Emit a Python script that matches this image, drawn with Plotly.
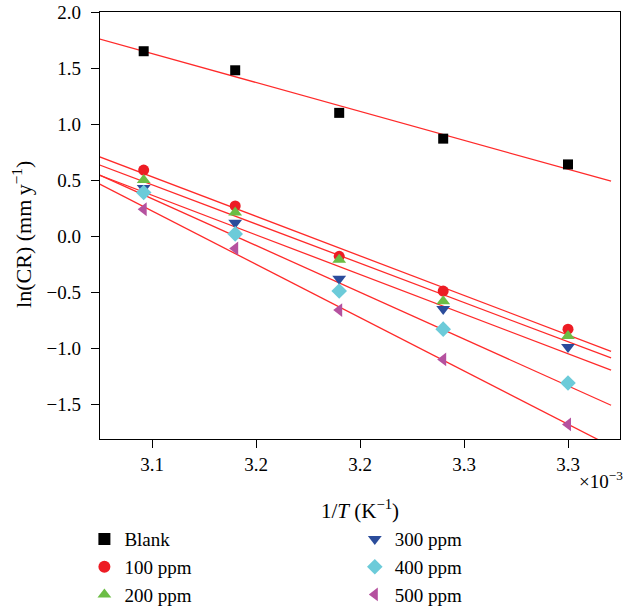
import numpy as np
import plotly.graph_objects as go

# 1/T in units of 1e-3 K^-1
inv_T = [3.096, 3.140, 3.190, 3.240, 3.300]

series_names = ["Blank", "100 ppm", "200 ppm", "300 ppm", "400 ppm", "500 ppm"]
blank = [1.65, 1.48, 1.10, 0.87, 0.64]
ppm100 = [0.59, 0.27, -0.18, -0.49, -0.83]
ppm200 = [0.50, 0.21, -0.21, -0.58, -0.89]
ppm300 = [0.43, 0.12, -0.38, -0.65, -0.99]
ppm400 = [0.39, 0.02, -0.49, -0.83, -1.31]
ppm500 = [0.24, -0.11, -0.66, -1.10, -1.68]
series_values = [blank, ppm100, ppm200, ppm300, ppm400, ppm500]

x_tickvals = [3.10, 3.15, 3.20, 3.25, 3.30]
x_ticktext = ["3.1", "3.2", "3.2", "3.3", "3.3"]
y_tickvals = [-1.5, -1.0, -0.5, 0.0, 0.5, 1.0, 1.5, 2.0]
y_ticktext = ["\u22121.5", "\u22121.0", "\u22120.5", "0.0", "0.5", "1.0", "1.5", "2.0"]

colors = ["#000000", "#ed1c24", "#6cbd45", "#2b4c9b", "#6ccbd9", "#b5519f"]
symbols = ["square", "circle", "triangle-up", "triangle-down", "diamond", "triangle-left"]
sizes = [10, 11, 12, 12, 12, 12]
legends = ["legend", "legend", "legend", "legend2", "legend2", "legend2"]

FONT = "Liberation Serif"
fig = go.Figure()

# linear Arrhenius fits for each series
fit_x = np.array([3.06, 3.3207])
for vals in series_values:
    slope, intercept = np.polyfit(inv_T, vals, 1)
    fig.add_trace(go.Scatter(
        x=fit_x, y=slope * fit_x + intercept, mode="lines",
        line=dict(color="#ff2a2a", width=1.3), showlegend=False, hoverinfo="skip",
    ))

for name, vals, c, s, sz, lg in zip(series_names, series_values, colors, symbols, sizes, legends):
    fig.add_trace(go.Scatter(
        x=inv_T, y=vals, mode="markers", name=name, legend=lg,
        marker=dict(color=c, symbol=s, size=sz, line=dict(width=0)),
    ))

axis_common = dict(
    showline=True, linecolor="black", linewidth=1.3, mirror=True,
    ticks="outside", ticklen=8, tickwidth=1.3, tickcolor="black",
    showgrid=False, zeroline=False,
    tickfont=dict(family=FONT, size=19, color="black"),
)

legend_common = dict(
    yanchor="top", xanchor="left",
    font=dict(family=FONT, size=19), tracegroupgap=0,
    itemsizing="constant", bgcolor="rgba(0,0,0,0)",
)

fig.update_layout(
    width=631, height=610,
    margin=dict(l=100, r=11, t=12, b=171, autoexpand=False),
    plot_bgcolor="white", paper_bgcolor="white",
    font=dict(family=FONT, size=19, color="black"),
    xaxis=dict(
        range=[3.075, 3.325], tickvals=x_tickvals, ticktext=x_ticktext,
        title=dict(text="1/<i>T</i> (K<sup>\u22121</sup>)", font=dict(family=FONT, size=21), standoff=29),
        **axis_common,
    ),
    yaxis=dict(
        range=[-1.81, 2.0], tickvals=y_tickvals, ticktext=y_ticktext,
        ticklabelstandoff=6,
        **axis_common,
    ),
    legend=dict(x=-0.03, y=-0.19, **legend_common),
    legend2=dict(x=0.49, y=-0.19, **legend_common),
    annotations=[
        dict(
            text="ln(CR) (mm\u2009y<sup>\u22121</sup>)", textangle=-90,
            xref="paper", yref="paper", x=-0.15, y=0.478,
            xanchor="center", yanchor="middle", showarrow=False,
            font=dict(family=FONT, size=22),
        ),
        dict(
            text="\u00d710<sup>\u22123</sup>", xref="paper", yref="paper",
            x=1.01, y=-0.095, xanchor="right", yanchor="middle", showarrow=False,
            font=dict(family=FONT, size=19),
        ),
    ],
)

fig.write_html("out.html")
